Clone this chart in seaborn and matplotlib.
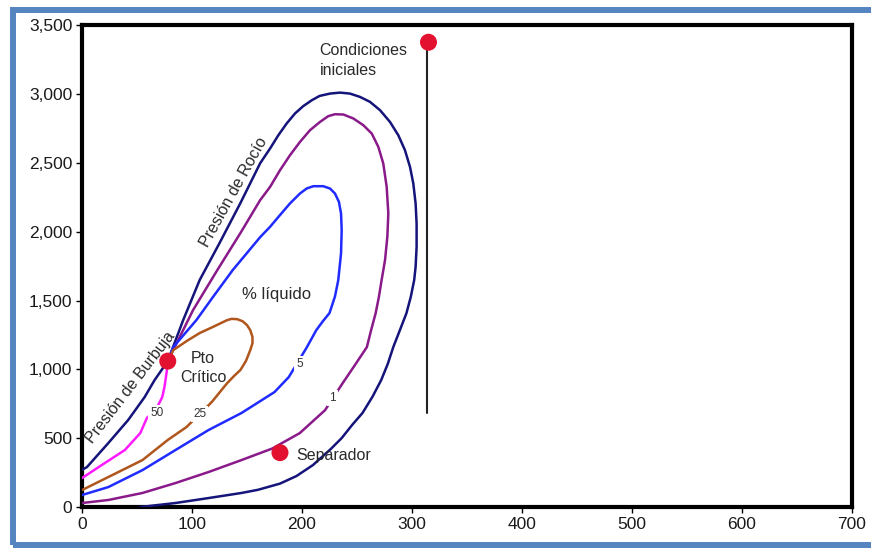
import matplotlib
matplotlib.use("Agg")
import matplotlib.pyplot as plt
import seaborn as sns
import pandas as pd
from matplotlib.patches import Rectangle
from matplotlib.ticker import FuncFormatter

# ---------------- data ----------------
# Envelope (Presión de Burbuja -> Pto Crítico -> Presión de Rocío)
env_x = [0, 4.5, 24, 42, 57, 66, 78, 92, 107, 125, 144, 162, 171, 178.5, 186, 193.6, 201, 209, 216, 225.5,
         234.5, 243.6, 252.7, 261.8, 271, 280, 287.6, 293.6, 298.2, 301.2, 303.3, 304.2, 304.2, 303.3, 302,
         299, 295, 289, 283, 278, 272, 264, 255, 246, 236, 226, 210, 195, 180, 160, 145, 115, 85, 53]
env_y = [270, 290, 465, 632, 799, 922, 1060, 1358, 1649, 1917, 2208, 2498, 2605, 2701, 2786, 2859, 2912, 2956, 2987, 3004,
         3011, 3004, 2980, 2944, 2883, 2798, 2701, 2593, 2471, 2351, 2205, 2060, 1890, 1745, 1649,
         1530, 1409, 1285, 1162, 1040, 922, 800, 683, 600, 500, 420, 305, 225, 170, 125, 102, 65, 29, 0]
# 1 % líquido
q1_x = [0, 24, 55, 85, 115, 145, 173, 198, 221, 237, 248, 259, 263, 267, 270, 272.4, 275.5, 277.6, 278.5, 277,
        273.9, 269.4, 263.4, 255.8, 246.7, 237.6, 230, 223.9, 216.4, 207.3, 198.2, 189.1, 180, 171, 162, 144,
        123, 101, 78]
q1_y = [29, 51, 102, 174, 254, 341, 425, 537, 704, 900, 1030, 1162, 1290, 1409, 1530, 1649, 1794, 1963, 2133, 2326,
        2496, 2617, 2714, 2774, 2823, 2852, 2854, 2840, 2798, 2738, 2653, 2556, 2447, 2326, 2230, 1990,
        1721, 1431, 1060]
# 5 % líquido
q5_x = [0, 24, 55, 85, 115, 145, 175, 188, 204, 213, 219, 225, 230, 233, 235.5, 236.1, 235.5, 233.6, 230, 225.5,
        219.4, 210.3, 204.2, 198.2, 189.1, 180, 171, 162, 137, 119, 104, 83, 78]
q5_y = [87, 145, 268, 414, 559, 683, 835, 944, 1155, 1285, 1350, 1409, 1530, 1649, 1842, 2012, 2133, 2217, 2278, 2314,
        2331, 2331, 2314, 2278, 2206, 2121, 2036, 1961, 1721, 1525, 1358, 1162, 1060]
# 25 % líquido
q25_x = [0, 24, 55, 78, 95, 107, 118, 132, 138, 144, 149, 153, 155, 155, 153, 150, 146, 141, 136, 132,
         120, 107, 95, 83, 78]
q25_y = [123, 218, 341, 487, 581, 675, 763, 900, 950, 995, 1060, 1140, 1190, 1235, 1285, 1322, 1350, 1365, 1367, 1358,
         1312, 1264, 1205, 1140, 1060]
# 50 % líquido
q50_x = [0, 18, 39, 53, 59, 68, 73, 75, 77, 78]
q50_y = [210, 305, 414, 537, 646, 720, 799, 872, 980, 1060]

# trajectory (vertical line from initial conditions)
tray_x = [314, 314]
tray_y = [680, 3377]

# marked points
pts_name = ["Pto Crítico", "Separador", "Condiciones iniciales"]
pts_x = [78, 180, 315]
pts_y = [1060, 395, 3377]

# contour labels
lab_text = ["50", "25", "5", "1"]
lab_x = [68, 107, 198, 228]
lab_y = [683, 675, 1040, 792]

x_ticks = [0, 100, 200, 300, 400, 500, 600, 700]
y_ticks = [0, 500, 1000, 1500, 2000, 2500, 3000, 3500]

# ---------------- plotting ----------------
sns.set_style("white")
plt.rcParams["font.family"] = ["Liberation Sans", "DejaVu Sans"]

fig = plt.figure(figsize=(8.71, 5.48), dpi=100)
ax = fig.add_axes([0.0941, 0.0748, 0.8841, 0.879])

curves = [
    (env_x, env_y, "#14147a"),
    (q1_x, q1_y, "#8a1a8a"),
    (q5_x, q5_y, "#1f2bff"),
    (q25_x, q25_y, "#b0561c"),
    (q50_x, q50_y, "#ff1aff"),
]
for cx, cy, col in curves:
    df = pd.DataFrame({"x": cx, "y": cy})
    line_ax = sns.lineplot(data=df, x="x", y="y", sort=False, estimator=None, color=col,
                           linewidth=1.8, ax=ax, zorder=3)
for ln in ax.lines:
    ln.set_solid_joinstyle("round")

sns.lineplot(x=tray_x, y=tray_y, sort=False, estimator=None, color="#222222",
             linewidth=1.5, ax=ax, zorder=3)

sns.scatterplot(x=pts_x, y=pts_y, color="#e2112f", s=150, edgecolor="none", ax=ax, zorder=5)

box = dict(boxstyle="square,pad=0.18", fc="white", ec="none")
for t, lx, ly in zip(lab_text, lab_x, lab_y):
    ax.text(lx, ly, t, fontsize=8.5, color="#333333", ha="center", va="center", bbox=box, zorder=4)

txt_col = "#2a2a2a"
ax.text(216, 3246, "Condiciones\niniciales", fontsize=11.5, color=txt_col, ha="left", va="center",
        linespacing=1.45)
ax.text(110, 1009, "Pto\nCrítico", fontsize=11.5, color=txt_col, ha="center", va="center",
        linespacing=1.3)
ax.text(195, 375, "Separador", fontsize=11.5, color=txt_col, ha="left", va="center")
ax.text(177, 1547, "% líquido", fontsize=12, color=txt_col, ha="center", va="center")
ax.text(138, 2288, "Presión de Rocío", fontsize=11.5, color=txt_col, ha="center", va="center",
        rotation=61, rotation_mode="anchor")
ax.text(44, 871, "Presión de Burbuja", fontsize=11.5, color=txt_col, ha="center", va="center",
        rotation=52.5, rotation_mode="anchor")

ax.set_xlim(0, 700)
ax.set_ylim(0, 3500)
ax.set_xticks(x_ticks)
ax.set_yticks(y_ticks)
ax.yaxis.set_major_formatter(FuncFormatter(lambda v, p: f"{int(v):,}"))
ax.set_xlabel("")
ax.set_ylabel("")
for sp in ax.spines.values():
    sp.set_visible(True)
    sp.set_color("black")
    sp.set_linewidth(3)
ax.tick_params(axis="both", which="major", direction="out", length=4, width=1, color="black",
               labelsize=12.5, labelcolor="#1a1a1a", pad=3, bottom=True, left=True)

# blue figure frame
fig.patches.append(Rectangle((0.0149, 0.0046), 1.2, 0.978, transform=fig.transFigure,
                             fill=False, ec="#5585c0", lw=4.3, zorder=0))

fig.savefig("out.png", dpi=100)
